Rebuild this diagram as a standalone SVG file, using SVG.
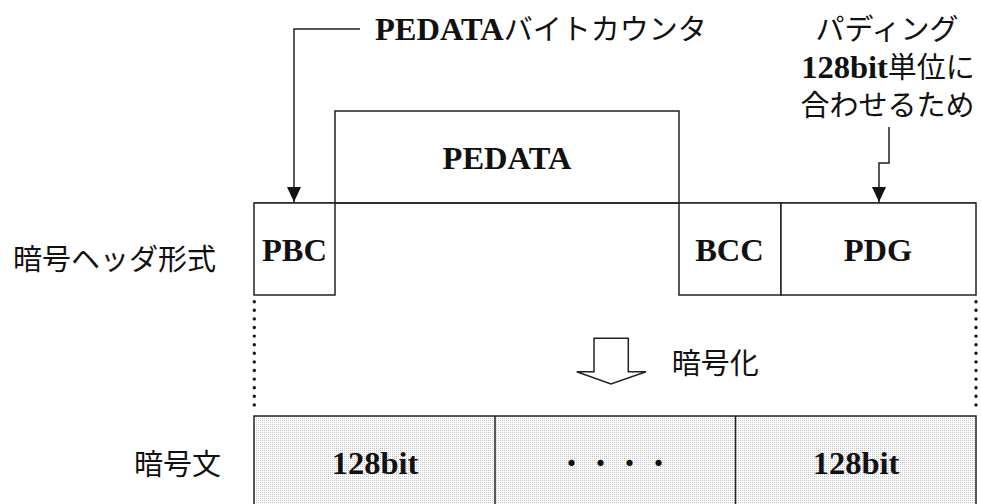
<svg xmlns="http://www.w3.org/2000/svg" width="981" height="504" viewBox="0 0 981 504">
<defs>
<style>
.box{fill:#fff;stroke:#222;stroke-width:1.5}
.ln{fill:none;stroke:#222;stroke-width:1.5}
.dot{fill:none;stroke:#111;stroke-width:3.4;stroke-linecap:round;stroke-dasharray:0 8.6}
.lat{font-family:"Liberation Serif",serif;font-weight:bold;font-size:32.5px;fill:#111}
.jp{font-family:"Noto Sans CJK JP",sans-serif;font-size:29px;fill:#111}
.c{text-anchor:middle}
</style>
<pattern id="halftone" width="2" height="2" patternUnits="userSpaceOnUse">
<rect width="2" height="2" fill="#fff"/>
<rect width="1" height="1" fill="#c4c4c4"/>
</pattern>
<marker id="ah" markerUnits="userSpaceOnUse" markerWidth="16" markerHeight="16" viewBox="0 0 16 16" refX="15" refY="8" orient="auto">
<path d="M0,1 L15,8 L0,15 Z" fill="#111"/>
</marker>
</defs>
<rect width="981" height="504" fill="#fff"/>

<g id="label-header">
<text class="jp" x="13" y="270">暗号ヘッダ形式</text>
</g>
<g id="label-cipher">
<text class="jp" x="134" y="475">暗号文</text>
</g>

<g id="pedata">
<rect class="box" x="335" y="111" width="344" height="92"/>
<text class="lat c" x="507" y="169">PEDATA</text>
</g>
<g id="header-line">
<line class="ln" x1="254" y1="203" x2="976" y2="203"/>
</g>
<g id="pbc">
<rect class="box" x="254" y="203" width="81" height="92"/>
<text class="lat c" x="294.5" y="261">PBC</text>
</g>
<g id="bcc">
<rect class="box" x="679" y="203" width="102" height="92"/>
<text class="lat c" x="729.5" y="261">BCC</text>
</g>
<g id="pdg">
<rect class="box" x="781" y="203" width="195" height="92"/>
<text class="lat c" x="878" y="261">PDG</text>
</g>

<g id="label-pbc">
<text x="375" y="40"><tspan class="lat">PEDATA</tspan><tspan class="jp">バイトカウンタ</tspan></text>
</g>
<g id="label-pdg">
<text class="jp c" x="887" y="40">パディング</text>
<text class="c" x="888" y="78"><tspan class="lat">128bit</tspan><tspan class="jp">単位に</tspan></text>
<text class="jp c" x="887.5" y="116">合わせるため</text>
</g>

<g id="guides">
<line class="dot" x1="254.3" y1="301.7" x2="254.3" y2="413"/>
<line class="dot" x1="976" y1="301.7" x2="976" y2="413"/>
</g>

<g id="encrypt">
<path class="ln" d="M594,338.3 H628.3 V371.7 H646 L611,384 L576.7,371.7 H594 Z" fill="#fff"/>
<text class="jp" x="671.7" y="374">暗号化</text>
</g>

<g id="cipher-row">
<rect x="254" y="416" width="722" height="100" fill="url(#halftone)" stroke="#222" stroke-width="1.5"/>
<line class="ln" x1="495" y1="416" x2="495" y2="510"/>
<line class="ln" x1="735.5" y1="416" x2="735.5" y2="510"/>
</g>
<g id="block1">
<text class="lat c" x="375" y="474">128bit</text>
</g>
<g id="block2">
<text class="jp c" x="615" y="474">・・・・</text>
</g>
<g id="block3">
<text class="lat c" x="856" y="474">128bit</text>
</g>

<g id="connectors">
<path class="ln" d="M360,29 H294 V202" marker-end="url(#ah)"/>
<path class="ln" d="M889,127 V163 H879 V202" marker-end="url(#ah)"/>
</g>
</svg>
